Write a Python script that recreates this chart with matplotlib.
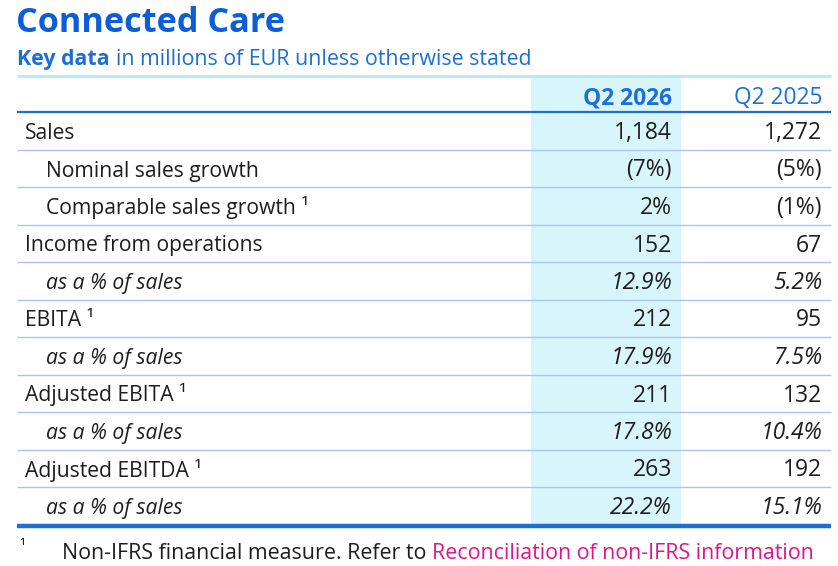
import matplotlib
matplotlib.use("Agg")
import matplotlib.pyplot as plt

# table content
title = "Connected Care"
subtitle_bold = "Key data"
subtitle_rest = "in millions of EUR unless otherwise stated"
columns = ["Q2 2026", "Q2 2025"]
row_labels = ["Sales", "Nominal sales growth", "Comparable sales growth \u00b9",
              "Income from operations", "as a % of sales", "EBITA \u00b9",
              "as a % of sales", "Adjusted EBITA \u00b9", "as a % of sales",
              "Adjusted EBITDA \u00b9", "as a % of sales"]
row_indent = [0, 1, 1, 0, 1, 0, 1, 0, 1, 0, 1]
row_italic = [False, False, False, False, True, False, True, False, True, False, True]
q2_2026 = ["1,184", "(7%)", "2%", "152", "12.9%", "212", "17.9%", "211", "17.8%", "263", "22.2%"]
q2_2025 = ["1,272", "(5%)", "(1%)", "67", "5.2%", "95", "7.5%", "132", "10.4%", "192", "15.1%"]
footnote_num = "\u00b9"
footnote_text = "Non-IFRS financial measure. Refer to "
footnote_link = "Reconciliation of non-IFRS information"

BLUE = "#0b5ed7"
BLUE_TXT = "#1b6fd6"
LINE_BLUE = "#1f6fd1"
ROW_LINE = "#a9c6ea"
CYAN_LINE = "#b5ebf8"
SHADE = "#d9f5fc"
MAGENTA = "#e0158b"
TXT = "#1e1e1e"
FONT = "Open Sans"
FS = 15.2

fig = plt.figure(figsize=(8.38, 5.66), dpi=100)
ax = fig.add_axes([0, 0, 1, 1])
ax.set_xlim(0, 838)
ax.set_ylim(566, 0)
ax.axis("off")

left, right = 17, 831
shade_l, shade_r = 531, 681
col_x = [672, 822]
row0_y = 131
row_h = 37.5
base_off = 8

renderer = fig.canvas.get_renderer()


def place_after(txt_obj, gap_px):
    bb = txt_obj.get_window_extent(renderer=renderer)
    x_data = ax.transData.inverted().transform((bb.x1, bb.y0))[0]
    return x_data + gap_px


# title and subtitle
ax.text(left - 1, 32, title, fontsize=24.7, fontweight="bold", color=BLUE,
        family=FONT, va="baseline", ha="left")
t = ax.text(left, 65, subtitle_bold, fontsize=15.4, fontweight="bold", color=BLUE_TXT,
            family=FONT, va="baseline", ha="left")
ax.text(place_after(t, 6), 65, subtitle_rest, fontsize=15.4, color=BLUE_TXT,
        family=FONT, va="baseline", ha="left")

# shading of current-quarter column
n = len(row_labels)
bottom_y = row0_y + (n - 1) * row_h + row_h / 2
ax.fill_between([shade_l, shade_r], 76, bottom_y, color=SHADE, lw=0, zorder=0)

# lines
ax.plot([left, right], [75.5, 75.5], color=CYAN_LINE, lw=2.2, solid_capstyle="butt")
ax.plot([left, right], [112, 112], color=LINE_BLUE, lw=1.6, solid_capstyle="butt")
for i in range(n - 1):
    y = row0_y + i * row_h + row_h / 2
    ax.plot([left, right], [y, y], color=ROW_LINE, lw=1.0, solid_capstyle="butt")
ax.plot([left, right], [bottom_y + 1.5, bottom_y + 1.5], color=LINE_BLUE, lw=3.2,
        solid_capstyle="butt")

# header
ax.text(col_x[0], 104, columns[0], fontsize=16.4, fontweight="bold", color=BLUE_TXT,
        family=FONT, ha="right", va="baseline")
ax.text(col_x[1], 104, columns[1], fontsize=16.4, color=BLUE_TXT,
        family=FONT, ha="right", va="baseline")

# rows
for i, lab in enumerate(row_labels):
    y = row0_y + i * row_h + base_off
    style = "italic" if row_italic[i] else "normal"
    x = 25 if row_indent[i] == 0 else 46
    ax.text(x, y, lab, fontsize=FS, color=TXT, family=FONT, style=style,
            ha="left", va="baseline")
    ax.text(col_x[0], y, q2_2026[i], fontsize=16.5, color=TXT, family=FONT,
            style=style, ha="right", va="baseline")
    ax.text(col_x[1], y, q2_2025[i], fontsize=16.5, color=TXT, family=FONT,
            style=style, ha="right", va="baseline")

# footnote
ax.text(19, 552, footnote_num, fontsize=12, color=TXT, family=FONT,
        ha="left", va="baseline")
f = ax.text(62, 559, footnote_text, fontsize=15.4, color=TXT, family=FONT,
            ha="left", va="baseline")
ax.text(place_after(f, 0), 559, footnote_link, fontsize=15.4, color=MAGENTA,
        family=FONT, ha="left", va="baseline")

fig.savefig("out.png", dpi=100)
